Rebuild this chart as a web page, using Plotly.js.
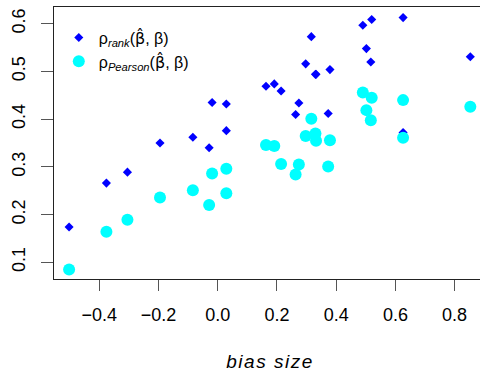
<!DOCTYPE html>
<html>
<head>
<meta charset="utf-8">
<script src="https://cdn.plot.ly/plotly-3.0.1.min.js"></script>
<style>
html, body { margin: 0; padding: 0; overflow: hidden; background: #fff; }
#chart { width: 490px; height: 372px; }
.xtitle { letter-spacing: 1.5px; }
</style>
</head>
<body>
<div id="chart"></div>
<script>
// bias size (x) for each setting
var biasSize = [-0.502, -0.376, -0.305, -0.195, -0.084, -0.029, -0.019, 0.029, 0.029,
  0.163, 0.191, 0.214, 0.274, 0.263, 0.316, 0.297, 0.330, 0.332, 0.379, 0.373,
  0.490, 0.520, 0.502, 0.517, 0.626, 0.626, 0.853];
// rank correlation
var rhoRank = [0.174, 0.266, 0.289, 0.350, 0.362, 0.340, 0.435, 0.432, 0.376,
  0.469, 0.474, 0.459, 0.434, 0.410, 0.573, 0.516, 0.494, 0.494, 0.504, 0.412,
  0.597, 0.609, 0.548, 0.520, 0.613, 0.372, 0.531];
// Pearson correlation
var rhoPearson = [0.085, 0.164, 0.189, 0.236, 0.251, 0.220, 0.286, 0.296, 0.245,
  0.346, 0.344, 0.306, 0.305, 0.284, 0.401, 0.365, 0.370, 0.355, 0.356, 0.301,
  0.456, 0.445, 0.419, 0.398, 0.440, 0.361, 0.426];

var xTicks = [-0.4, -0.2, 0.0, 0.2, 0.4, 0.6, 0.8];
var yTicks = [0.1, 0.2, 0.3, 0.4, 0.5, 0.6];

var FONT = 'Liberation Sans, Arial, Helvetica, sans-serif';
var BETAHAT = '<span style="font-family:DejaVu Sans">β̂</span>';

var traces = [
  {
    x: biasSize, y: rhoRank, type: 'scatter', mode: 'markers',
    name: 'ρ<sub><i>rank</i></sub>(' + BETAHAT + ', β)',
    marker: { symbol: 'diamond', size: 7, color: '#0000ff' }
  },
  {
    x: biasSize, y: rhoPearson, type: 'scatter', mode: 'markers',
    name: 'ρ<sub><i>Pearson</i></sub>(' + BETAHAT + ', β)',
    marker: { symbol: 'circle', size: 12, color: '#00ffff' }
  }
];

var layout = {
  width: 490, height: 372,
  margin: { l: 54, r: 4, t: 7, b: 93 },
  paper_bgcolor: '#ffffff', plot_bgcolor: '#ffffff',
  font: { family: FONT, size: 18, color: '#000' },
  showlegend: true,
  legend: {
    x: 0.025, y: 0.95, xanchor: 'left', yanchor: 'top',
    bgcolor: 'rgba(0,0,0,0)', borderwidth: 0,
    font: { family: FONT, size: 16, color: '#000' },
    indentation: -6,
    tracegroupgap: 0
  },
  xaxis: {
    range: [-0.553, 0.906],
    tickvals: xTicks, tickformat: '.1f',
    showgrid: false, zeroline: false,
    showline: true, mirror: true, linecolor: '#222', linewidth: 1,
    ticks: 'outside', ticklen: 11, tickcolor: '#555', tickwidth: 1,
    tickfont: { family: FONT, size: 18, color: '#000' },
    ticklabelstandoff: 8,
    title: { text: 'bias size', font: { family: FONT, size: 19, style: 'italic', color: '#000' }, standoff: 33 }
  },
  yaxis: {
    range: [0.065, 0.6352],
    tickvals: yTicks, tickformat: '.1f',
    showgrid: false, zeroline: false,
    showline: true, mirror: true, linecolor: '#222', linewidth: 1,
    ticks: 'outside', ticklen: 12, tickcolor: '#555', tickwidth: 1,
    tickangle: -90,
    tickfont: { family: FONT, size: 18, color: '#000' },
    ticklabelstandoff: 9
  }
};

Plotly.newPlot('chart', traces, layout, { displayModeBar: false, staticPlot: true });
</script>
</body>
</html>
